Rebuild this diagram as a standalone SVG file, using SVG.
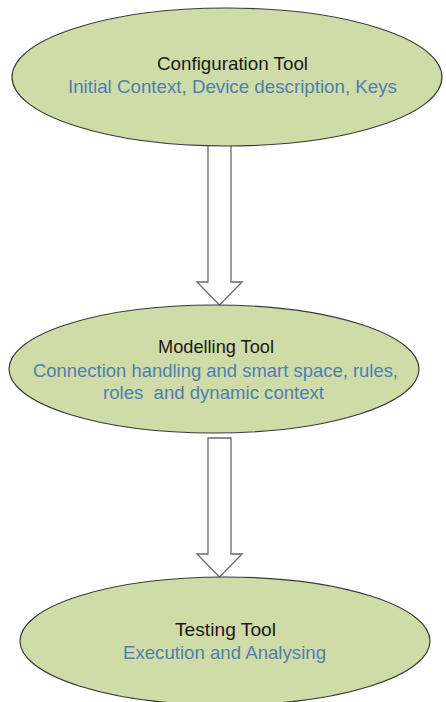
<svg xmlns="http://www.w3.org/2000/svg" width="446" height="702" viewBox="0 0 446 702">
  <style>
    .node { fill: #cfdca8; stroke: #3a3a3a; stroke-width: 1.2; }
    .title { font-family: "Liberation Sans", Arial, sans-serif; font-size: 18.5px; fill: #1a1a1a; text-anchor: middle; }
    .sub { font-family: "Liberation Sans", Arial, sans-serif; font-size: 18.5px; fill: #4e7fae; text-anchor: middle; }
    .flow { fill: #ffffff; stroke: #6a6a6a; stroke-width: 1.3; stroke-linejoin: miter; }
  </style>
  <rect width="446" height="702" fill="#ffffff"/>

  <!-- block arrows between the tools -->
  <g id="connectors">
    <path class="flow" d="M208,145 L231,145 L231,282 L242,282 L219.5,305 L197,282 L208,282 Z"/>
    <path class="flow" d="M208,438 L231,438 L231,554 L242,554 L219.5,577 L197,554 L208,554 Z"/>
  </g>

  <g id="configuration-tool">
    <ellipse class="node" cx="227" cy="77" rx="215" ry="69"/>
    <text class="title" x="232.5" y="70" textLength="151" lengthAdjust="spacingAndGlyphs">Configuration Tool</text>
    <text class="sub" x="232.5" y="93" textLength="329" lengthAdjust="spacingAndGlyphs">Initial Context, Device description, Keys</text>
  </g>

  <g id="modelling-tool">
    <ellipse class="node" cx="214" cy="369" rx="205" ry="64"/>
    <text class="title" x="216" y="353" textLength="116" lengthAdjust="spacingAndGlyphs">Modelling Tool</text>
    <text class="sub" x="215.5" y="377" textLength="365" lengthAdjust="spacingAndGlyphs">Connection handling and smart space, rules,</text>
    <text class="sub" x="213.5" y="399" textLength="221" lengthAdjust="spacingAndGlyphs" xml:space="preserve">roles  and dynamic context</text>
  </g>

  <g id="testing-tool">
    <ellipse class="node" cx="225" cy="641" rx="205" ry="64"/>
    <text class="title" x="225.5" y="636" textLength="101" lengthAdjust="spacingAndGlyphs">Testing Tool</text>
    <text class="sub" x="224.5" y="659" textLength="203" lengthAdjust="spacingAndGlyphs">Execution and Analysing</text>
  </g>
</svg>
